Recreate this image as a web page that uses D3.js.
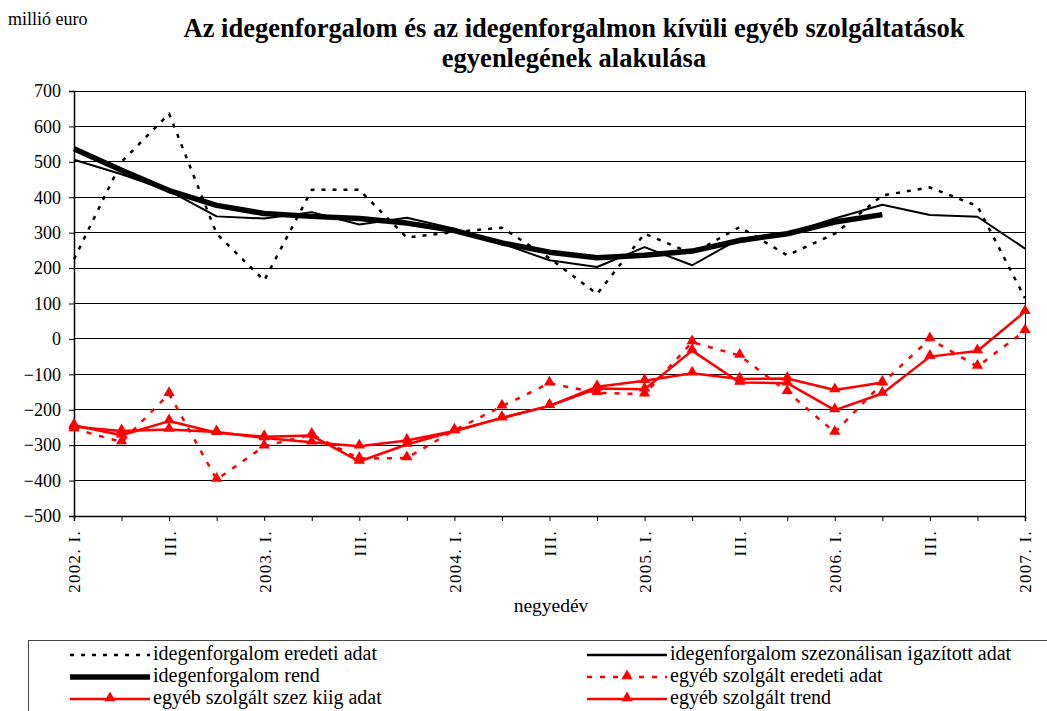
<!DOCTYPE html>
<html><head><meta charset="utf-8">
<script src="https://cdn.jsdelivr.net/npm/d3@7"></script>
<style>
body{margin:0;background:#fff;}
</style></head>
<body>
<svg id="c" width="1047" height="711"></svg>
<script>
const quarters = ["2002. I.","II.","III.","IV.","2003. I.","II.","III.","IV.","2004. I.","II.","III.","IV.","2005. I.","II.","III.","IV.","2006. I.","II.","III.","IV.","2007. I."];
const xTickLabels = ["2002. I.","","III.","","2003. I.","","III.","","2004. I.","","III.","","2005. I.","","III.","","2006. I.","","III.","","2007. I."];
const yTicks = [700,600,500,400,300,200,100,0,-100,-200,-300,-400,-500];

const tourismOriginal = [225,500,636,297,165,421,421,286,302,314,228,127,297,241,316,236,297,405,428,375,115];
const tourismSA       = [506,465,418,346,340,358,323,342,311,269,222,203,259,208,283,297,340,379,350,345,255];
const tourismTrend    = [537,476,419,377,354,346,340,327,306,271,245,229,236,248,278,297,330,351];
const otherOriginal   = [-254,-291,-155,-397,-303,-270,-338,-336,-258,-190,-125,-152,-156,-9,-47,-149,-264,-125,0,-78,23];
const otherSA         = [-244,-272,-232,-265,-276,-273,-346,-298,-260,-223,-189,-140,-142,-33,-123,-125,-201,-154,-50,-34,77];
const otherTrend      = [-248,-260,-256,-263,-280,-292,-303,-287,-260,-223,-189,-135,-118,-97,-113,-112,-144,-123];

const seriesNames = ["idegenforgalom eredeti adat","idegenforgalom szezonálisan igazított adat","idegenforgalom rend"," egyéb szolgált eredeti adat","egyéb szolgált szez kiig adat","egyéb szolgált trend"];

const FONT = "'Liberation Serif','Times New Roman','DejaVu Serif',serif";
const svg = d3.select("#c");
const L=74, R=1025, T=91, B=516;
const x = d3.scalePoint().domain(d3.range(quarters.length)).range([L,R]);
const y = d3.scaleLinear().domain([-500,700]).range([B,T]);

function txt(sel){ return sel.style("font-family",FONT).attr("fill","#000"); }

// title
txt(svg.append("text").attr("x",8).attr("y",25).attr("font-size",18)).text("millió euro");
const title = txt(svg.append("text").attr("text-anchor","middle").attr("font-weight","bold").attr("font-size",26.5));
title.append("tspan").attr("x",574).attr("y",37).text("Az idegenforgalom és az idegenforgalmon kívüli egyéb szolgáltatások");
title.append("tspan").attr("x",574).attr("y",67).text("egyenlegének alakulása");

// grid
svg.append("g").selectAll("line").data(yTicks).join("line")
  .attr("x1",L).attr("x2",R).attr("y1",d=>y(d)).attr("y2",d=>y(d))
  .attr("stroke","#000").attr("stroke-width",1).attr("shape-rendering","crispEdges");
svg.append("line").attr("x1",R).attr("x2",R).attr("y1",T).attr("y2",B).attr("stroke","#000").attr("shape-rendering","crispEdges");

// y axis
const yAxis = d3.axisLeft(y).tickValues(yTicks).tickSize(5).tickPadding(8);
const gy = svg.append("g").attr("transform",`translate(${L},0)`).call(yAxis);
txt(gy.selectAll("text")).attr("font-size",18);
gy.select(".domain").attr("stroke","#000").attr("stroke-width",1.5);

// x axis
const xAxis = d3.axisBottom(x).tickSize(5).tickFormat(i=>xTickLabels[i]).tickPadding(6);
const gx = svg.append("g").attr("transform",`translate(0,${B})`).call(xAxis);
gx.select(".domain").attr("stroke","#000").attr("stroke-width",1.5);
txt(gx.selectAll("text")).attr("font-size",17)
  .attr("letter-spacing",1.3)
  .attr("transform","rotate(-90)").attr("text-anchor","end")
  .attr("dx","-14").attr("dy","0.35em").attr("y",0).attr("x",0);

txt(svg.append("text").attr("x",551).attr("y",612).attr("text-anchor","middle").attr("font-size",19.5)).text("negyedév");

// lines
const line = d3.line().x((d,i)=>x(i)).y(d=>y(d));
function drawLine(data, color, width, dash){
  svg.append("path").datum(data).attr("d",line).attr("fill","none")
    .attr("stroke",color).attr("stroke-width",width).attr("stroke-dasharray",dash||null)
    .attr("stroke-linejoin","round");
}
const tri = d3.symbol().type(d3.symbolTriangle).size(55);
function drawTri(data){
  svg.append("g").selectAll("path").data(data).join("path")
    .attr("d",tri).attr("fill","#f00")
    .attr("transform",(d,i)=>`translate(${x(i)},${y(d)-1})`);
}
drawLine(tourismOriginal,"#000",2.5,"4 7");
drawLine(tourismSA,"#000",2);
drawLine(tourismTrend,"#000",5.5);
drawLine(otherOriginal,"#f00",2.5,"5 8"); drawTri(otherOriginal);
drawLine(otherSA,"#f00",2.5); drawTri(otherSA);
drawLine(otherTrend,"#f00",2.5); drawTri(otherTrend);

// legend
svg.append("rect").attr("x",28.5).attr("y",640.5).attr("width",1040).attr("height",100)
  .attr("fill","none").attr("stroke","#444").attr("stroke-width",1);
const leg = [
  {c:"#000",w:2.5,d:"4 7",t:false,x:70,y:655},
  {c:"#000",w:2.5,d:null,t:false,x:587,y:655},
  {c:"#000",w:5.5,d:null,t:false,x:70,y:677},
  {c:"#f00",w:2.5,d:"5 8",t:true,x:587,y:677},
  {c:"#f00",w:2.5,d:null,t:true,x:70,y:699},
  {c:"#f00",w:2.5,d:null,t:true,x:587,y:699}
];
leg.forEach((l,k)=>{
  svg.append("line").attr("x1",l.x).attr("x2",l.x+80).attr("y1",l.y).attr("y2",l.y)
    .attr("stroke",l.c).attr("stroke-width",l.w).attr("stroke-dasharray",l.d);
  if(l.t) svg.append("path").attr("d",tri).attr("fill","#f00").attr("transform",`translate(${l.x+40},${l.y-1})`);
  txt(svg.append("text").attr("x",l.x+83).attr("y",l.y+5).attr("font-size",20)).text(seriesNames[k]);
});
</script>
</body></html>
